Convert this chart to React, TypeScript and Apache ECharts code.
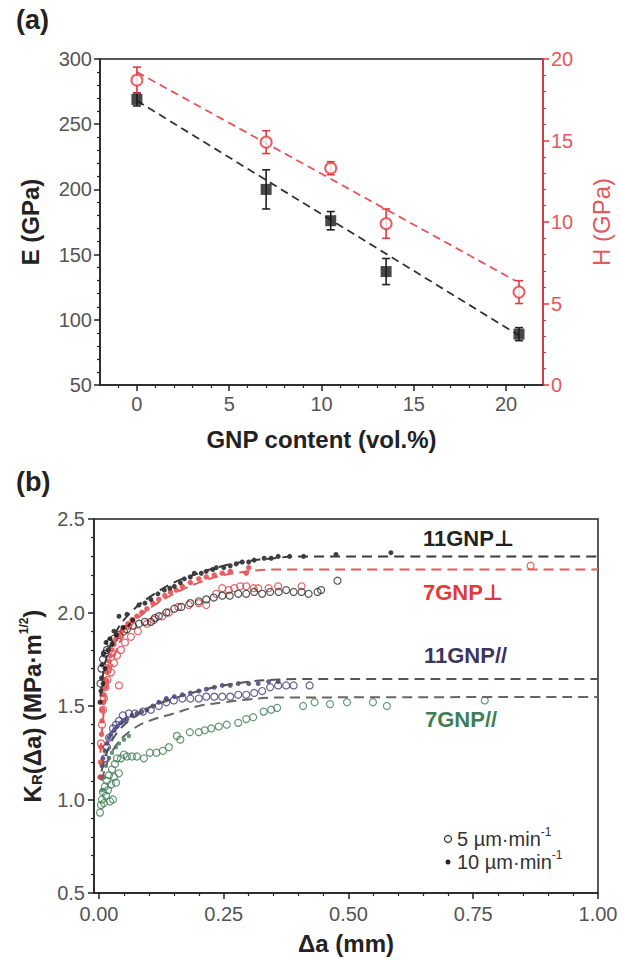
import React, { useEffect, useRef } from "react";
import * as echarts from "echarts";

// ---------- Panel (a) data ----------
const gnpContent = [0, 7, 10.5, 13.5, 20.7];
const modulusE = [269, 200, 176, 137, 89];
const modulusErr = [5, 15, 7, 10, 5];
const hardnessH = [18.7, 14.9, 13.3, 9.9, 5.7];
const hardnessErr = [0.8, 0.7, 0.4, 0.9, 0.7];
const fitE = [[0, 268], [20.7, 88]];
const fitH = [[0, 19.2], [20.5, 6.4]];
const aXTicks = [0, 5, 10, 15, 20];
const aXMinor = [-1, 1, 2, 3, 4, 6, 7, 8, 9, 11, 12, 13, 14, 16, 17, 18, 19, 21];

// ---------- Panel (b) data ----------
const bXTicks = [0, 0.25, 0.5, 0.75, 1.0];
const bXMinor = [0.05, 0.1, 0.15, 0.2, 0.3, 0.35, 0.4, 0.45, 0.55, 0.6, 0.65, 0.7, 0.8, 0.85, 0.9, 0.95];

const perp11Fast = [[0.002,1.52],[0.004,1.58],[0.005,1.65],[0.006,1.72],[0.008,1.62],[0.01,1.78],[0.012,1.7],[0.014,1.84],[0.018,1.8],[0.022,1.86],[0.026,1.83],[0.03,1.9],[0.035,1.88],[0.04,1.98],[0.048,1.92],[0.056,1.99],[0.062,1.93],[0.068,1.96],[0.08,2.04],[0.092,2.05],[0.104,2.07],[0.118,2.1],[0.131,2.12],[0.142,2.13],[0.151,2.14],[0.163,2.16],[0.171,2.18],[0.183,2.19],[0.191,2.21],[0.205,2.21],[0.215,2.22],[0.228,2.23],[0.235,2.24],[0.25,2.24],[0.263,2.25],[0.275,2.26],[0.287,2.27],[0.3,2.27],[0.311,2.28],[0.331,2.29],[0.345,2.29],[0.359,2.3],[0.382,2.3],[0.41,2.3],[0.475,2.31],[0.585,2.32]];
const perp11Slow = [[0.003,1.62],[0.005,1.7],[0.008,1.75],[0.012,1.78],[0.016,1.8],[0.022,1.84],[0.03,1.86],[0.04,1.88],[0.05,1.9],[0.056,1.91],[0.068,1.93],[0.08,1.94],[0.092,1.95],[0.104,1.95],[0.112,1.97],[0.12,1.98],[0.135,2.0],[0.151,2.02],[0.165,2.03],[0.183,2.05],[0.2,2.06],[0.215,2.07],[0.23,2.08],[0.247,2.09],[0.262,2.09],[0.279,2.1],[0.295,2.1],[0.311,2.11],[0.327,2.1],[0.343,2.11],[0.36,2.11],[0.375,2.12],[0.39,2.11],[0.406,2.11],[0.42,2.1],[0.438,2.11],[0.445,2.12],[0.478,2.17]];
const perp7Fast = [[0.002,1.12],[0.003,1.2],[0.004,1.28],[0.005,1.35],[0.006,1.42],[0.007,1.48],[0.008,1.52],[0.01,1.56],[0.012,1.6],[0.014,1.64],[0.016,1.68],[0.018,1.71],[0.02,1.74],[0.023,1.77],[0.026,1.8],[0.03,1.83],[0.034,1.86],[0.04,1.88],[0.046,1.9],[0.052,1.92],[0.058,1.94],[0.066,1.96],[0.076,1.98],[0.086,2.0],[0.096,2.02],[0.108,2.05],[0.12,2.07],[0.132,2.09],[0.143,2.11],[0.155,2.12],[0.167,2.14],[0.183,2.16],[0.2,2.18],[0.215,2.19],[0.231,2.2],[0.247,2.21],[0.263,2.22],[0.295,2.21],[0.3,2.24]];
const perp7Slow = [[0.004,1.3],[0.006,1.4],[0.008,1.48],[0.01,1.54],[0.013,1.6],[0.017,1.64],[0.024,1.68],[0.03,1.73],[0.036,1.77],[0.04,1.61],[0.044,1.8],[0.052,1.84],[0.064,1.87],[0.078,1.9],[0.096,1.94],[0.11,1.96],[0.127,1.98],[0.14,2.0],[0.159,2.03],[0.18,2.04],[0.2,2.05],[0.215,2.04],[0.235,2.1],[0.247,2.13],[0.26,2.12],[0.271,2.13],[0.283,2.14],[0.295,2.14],[0.31,2.13],[0.319,2.13],[0.34,2.13],[0.359,2.14],[0.406,2.14],[0.865,2.25]];
const par11Fast = [[0.004,1.12],[0.006,1.18],[0.008,1.22],[0.012,1.26],[0.016,1.3],[0.02,1.33],[0.024,1.35],[0.03,1.37],[0.036,1.39],[0.044,1.41],[0.05,1.42],[0.056,1.43],[0.066,1.45],[0.076,1.46],[0.086,1.47],[0.096,1.48],[0.108,1.5],[0.12,1.52],[0.135,1.54],[0.151,1.55],[0.167,1.56],[0.183,1.57],[0.2,1.58],[0.215,1.59],[0.231,1.6],[0.247,1.61],[0.263,1.61],[0.279,1.62],[0.3,1.62],[0.319,1.62],[0.34,1.63],[0.359,1.63]];
const par11Slow = [[0.012,1.22],[0.016,1.28],[0.02,1.33],[0.028,1.38],[0.034,1.4],[0.04,1.42],[0.048,1.45],[0.06,1.46],[0.072,1.46],[0.088,1.47],[0.104,1.48],[0.12,1.5],[0.135,1.52],[0.15,1.53],[0.167,1.54],[0.183,1.54],[0.2,1.54],[0.215,1.55],[0.231,1.55],[0.247,1.55],[0.263,1.55],[0.279,1.56],[0.295,1.56],[0.311,1.57],[0.327,1.58],[0.343,1.6],[0.359,1.61],[0.375,1.61],[0.39,1.61],[0.422,1.61]];
const par7Slow = [[0.002,0.93],[0.004,0.97],[0.006,1.0],[0.008,1.04],[0.01,0.98],[0.012,1.07],[0.014,1.02],[0.016,1.1],[0.018,1.05],[0.02,1.13],[0.022,0.99],[0.024,1.08],[0.026,1.16],[0.028,1.0],[0.03,1.12],[0.032,1.19],[0.034,1.09],[0.036,1.22],[0.04,1.14],[0.044,1.22],[0.05,1.24],[0.056,1.23],[0.066,1.23],[0.076,1.23],[0.09,1.22],[0.102,1.25],[0.115,1.25],[0.128,1.26],[0.14,1.28],[0.156,1.34],[0.163,1.32],[0.182,1.36],[0.2,1.36],[0.212,1.37],[0.225,1.38],[0.24,1.39],[0.256,1.4],[0.279,1.41],[0.295,1.43],[0.309,1.44],[0.33,1.47],[0.345,1.48],[0.357,1.49],[0.409,1.5],[0.432,1.52],[0.463,1.51],[0.497,1.52],[0.549,1.52],[0.577,1.5],[0.773,1.53]];
const par7Fast = [[0.006,1.05],[0.01,1.12],[0.014,1.18],[0.02,1.22],[0.026,1.25],[0.034,1.28],[0.04,1.3],[0.05,1.32],[0.06,1.34]];

const fitPerp11 = [[0.003,1.55],[0.01,1.7],[0.02,1.8],[0.035,1.9],[0.05,1.96],[0.075,2.03],[0.1,2.08],[0.15,2.16],[0.2,2.21],[0.25,2.25],[0.3,2.275],[0.35,2.29],[0.4,2.3],[1.0,2.3]];
const fitPerp7 = [[0.003,1.25],[0.01,1.48],[0.02,1.65],[0.035,1.8],[0.05,1.88],[0.075,1.96],[0.1,2.02],[0.15,2.1],[0.2,2.16],[0.25,2.2],[0.3,2.22],[0.35,2.23],[1.0,2.23]];
const fitPar11 = [[0.005,1.15],[0.02,1.28],[0.04,1.37],[0.07,1.44],[0.1,1.49],[0.15,1.54],[0.2,1.58],[0.25,1.61],[0.3,1.63],[0.35,1.64],[0.4,1.645],[1.0,1.645]];
const fitPar7 = [[0.005,1.1],[0.02,1.22],[0.04,1.31],[0.07,1.38],[0.1,1.42],[0.15,1.46],[0.2,1.5],[0.25,1.52],[0.3,1.535],[0.35,1.545],[1.0,1.548]];

const FONT = '"Liberation Sans", Arial, Helvetica, "DejaVu Sans", sans-serif';
const AXIS = "#222";
const LBL = "#555";
const RED = "#e0393e";
const RED_LBL = "#e2585c";
const PURPLE = "#3e3a78";
const GREEN = "#3f7d56";

function errorBars(color: string) {
  return (params: any, api: any) => {
    const x = api.value(0);
    const lo = api.coord([x, api.value(1)]);
    const hi = api.coord([x, api.value(2)]);
    const w = 4;
    const st = { stroke: color, lineWidth: 1.6 };
    return {
      type: "group",
      children: [
        { type: "line", shape: { x1: lo[0], y1: lo[1], x2: hi[0], y2: hi[1] }, style: st },
        { type: "line", shape: { x1: lo[0] - w, y1: lo[1], x2: lo[0] + w, y2: lo[1] }, style: st },
        { type: "line", shape: { x1: hi[0] - w, y1: hi[1], x2: hi[0] + w, y2: hi[1] }, style: st },
      ],
    };
  };
}

function scatter(name: string, data: number[][], color: string, open: boolean, size?: number) {
  return {
    type: "scatter",
    name,
    xAxisIndex: 2,
    yAxisIndex: 2,
    data,
    symbol: "circle",
    symbolSize: size ?? (open ? 7 : 4.5),
    itemStyle: open
      ? { color: "rgba(255,255,255,0)", borderColor: color, borderWidth: 1.2 }
      : { color },
    z: 3,
  };
}

function fitLine(data: number[][], color: string) {
  return {
    type: "line",
    xAxisIndex: 2,
    yAxisIndex: 2,
    data,
    smooth: 0.4,
    symbol: "none",
    lineStyle: { color, width: 2, type: [10, 6] },
    z: 4,
  };
}

const tickLabel = { fontFamily: FONT, fontSize: 20, color: LBL };
const nameStyle = { fontFamily: FONT, fontSize: 24, fontWeight: "bold", color: AXIS };

export default function App() {
  const ref = useRef<HTMLDivElement>(null);
  useEffect(() => {
    if (!ref.current) return;
    const chart = echarts.init(ref.current, null, { renderer: "svg" });
    const option: any = {
      animation: false,
      backgroundColor: "#fff",
      grid: [
        { left: 100, top: 59, width: 445, height: 326, show: true, borderColor: AXIS, borderWidth: 1.5, backgroundColor: "transparent" },
        { left: 94, top: 519, width: 504, height: 374, show: true, borderColor: AXIS, borderWidth: 1.5, backgroundColor: "transparent" },
      ],
      xAxis: [
        {
          gridIndex: 0, type: "value", min: -2, max: 22, position: "bottom",
          axisLine: { onZero: false, lineStyle: { color: AXIS, width: 1.5 } },
          axisTick: { customValues: aXTicks, length: 6, lineStyle: { color: AXIS, width: 1.5 } },
          axisLabel: { customValues: aXTicks, margin: 9, ...tickLabel },
          splitLine: { show: false },
          name: "GNP content (vol.%)", nameLocation: "middle", nameGap: 42, nameTextStyle: nameStyle,
        },
        {
          gridIndex: 0, type: "value", min: -2, max: 22, position: "bottom",
          axisLine: { show: false, onZero: false },
          axisTick: { customValues: aXMinor, length: 3, lineStyle: { color: AXIS, width: 1.2 } },
          axisLabel: { show: false },
          splitLine: { show: false },
        },
        {
          gridIndex: 1, type: "value", min: -0.01, max: 1.0, position: "bottom",
          axisLine: { onZero: false, lineStyle: { color: AXIS, width: 1.5 } },
          axisTick: { customValues: bXTicks, length: 6, lineStyle: { color: AXIS, width: 1.5 } },
          axisLabel: { customValues: bXTicks, margin: 11, formatter: (v: number) => v.toFixed(2), ...tickLabel },
          splitLine: { show: false },
          name: "Δa (mm)", nameLocation: "middle", nameGap: 38, nameTextStyle: nameStyle,
        },
        {
          gridIndex: 1, type: "value", min: -0.01, max: 1.0, position: "bottom",
          axisLine: { show: false, onZero: false },
          axisTick: { customValues: bXMinor, length: 3, lineStyle: { color: AXIS, width: 1.2 } },
          axisLabel: { show: false },
          splitLine: { show: false },
        },
      ],
      yAxis: [
        {
          gridIndex: 0, type: "value", min: 50, max: 300, interval: 50, position: "left",
          axisLine: { show: true, onZero: false, lineStyle: { color: AXIS, width: 1.5 } },
          axisTick: { show: true, length: 6, lineStyle: { color: AXIS, width: 1.5 } },
          minorTick: { show: true, splitNumber: 5, length: 3, lineStyle: { color: AXIS, width: 1.2 } },
          axisLabel: { margin: 8, ...tickLabel },
          splitLine: { show: false },
          name: "E (GPa)", nameLocation: "middle", nameGap: 58, nameTextStyle: nameStyle,
        },
        {
          gridIndex: 0, type: "value", min: 0, max: 20, interval: 5, position: "right",
          axisLine: { show: true, onZero: false, lineStyle: { color: RED, width: 1.8 } },
          axisTick: { show: true, length: 6, lineStyle: { color: RED, width: 1.5 } },
          minorTick: { show: true, splitNumber: 5, length: 3, lineStyle: { color: RED, width: 1.2 } },
          axisLabel: { margin: 8, ...tickLabel, color: RED_LBL },
          splitLine: { show: false },
          name: "H (GPa)", nameLocation: "middle", nameGap: 46,
          nameTextStyle: { fontFamily: FONT, fontSize: 24, color: RED_LBL },
        },
        {
          gridIndex: 1, type: "value", min: 0.5, max: 2.5, interval: 0.5, position: "left",
          axisLine: { show: true, onZero: false, lineStyle: { color: AXIS, width: 1.5 } },
          axisTick: { show: true, length: 6, lineStyle: { color: AXIS, width: 1.5 } },
          minorTick: { show: true, splitNumber: 5, length: 3, lineStyle: { color: AXIS, width: 1.2 } },
          axisLabel: { margin: 9, formatter: (v: number) => v.toFixed(1), ...tickLabel },
          splitLine: { show: false },
          name: "{i|K}{s|R}{i|(Δa) (MPa·m}{p|1/2}{i|)}",
          nameLocation: "middle", nameGap: 48,
          nameTextStyle: {
            ...nameStyle,
            rich: {
              i: { fontFamily: FONT, fontSize: 24, fontWeight: "bold", color: AXIS },
              s: { fontFamily: FONT, fontSize: 15, fontWeight: "bold", color: AXIS, padding: [8, 0, 0, 0] },
              p: { fontFamily: FONT, fontSize: 12, fontWeight: "bold", color: AXIS, padding: [0, 0, 16, 0] },
            },
          },
        },
      ],
      series: [
        // Panel (a)
        {
          type: "line", xAxisIndex: 0, yAxisIndex: 0, data: fitE, symbol: "none",
          lineStyle: { color: "#333", width: 1.8, type: [8, 5] }, z: 2,
        },
        {
          type: "line", xAxisIndex: 0, yAxisIndex: 1, data: fitH, symbol: "none",
          lineStyle: { color: "#e25559", width: 1.8, type: [8, 5] }, z: 2,
        },
        {
          type: "custom", xAxisIndex: 0, yAxisIndex: 0,
          data: gnpContent.map((x, i) => [x, modulusE[i] - modulusErr[i], modulusE[i] + modulusErr[i]]),
          encode: { x: 0, y: [1, 2] },
          renderItem: errorBars("#222"), z: 3,
        },
        {
          type: "custom", xAxisIndex: 0, yAxisIndex: 1,
          data: gnpContent.map((x, i) => [x, hardnessH[i] - hardnessErr[i], hardnessH[i] + hardnessErr[i]]),
          encode: { x: 0, y: [1, 2] },
          renderItem: errorBars(RED), z: 3,
        },
        {
          type: "scatter", xAxisIndex: 0, yAxisIndex: 0,
          data: gnpContent.map((x, i) => [x, modulusE[i]]),
          symbol: "rect", symbolSize: 11, itemStyle: { color: "#1a1a1a" }, z: 4,
        },
        {
          type: "scatter", xAxisIndex: 0, yAxisIndex: 1,
          data: gnpContent.map((x, i) => [x, hardnessH[i]]),
          symbol: "circle", symbolSize: 11,
          itemStyle: { color: "#fff", borderColor: RED, borderWidth: 2 }, z: 5,
        },
        // Panel (b)
        scatter("7GNP// 5", par7Slow, GREEN, true),
        scatter("7GNP// 10", par7Fast, GREEN, false),
        scatter("11GNP// 5", par11Slow, PURPLE, true),
        scatter("11GNP// 10", par11Fast, PURPLE, false, 5),
        scatter("7GNP⊥ 5", perp7Slow, RED, true),
        scatter("11GNP⊥ 5", perp11Slow, "#2a2a2a", true),
        scatter("7GNP⊥ 10", perp7Fast, RED, false, 5.5),
        scatter("11GNP⊥ 10", perp11Fast, "#111", false, 5),
        fitLine(fitPerp11, "#3a3a3a"),
        fitLine(fitPerp7, "#e45b5b"),
        fitLine(fitPar11, "#555"),
        fitLine(fitPar7, "#666"),
      ],
      graphic: [
        { type: "text", left: 16, top: 6, style: { text: "(a)", fontFamily: FONT, fontSize: 27, fontWeight: "bold", fill: "#222" } },
        { type: "text", left: 16, top: 468, style: { text: "(b)", fontFamily: FONT, fontSize: 27, fontWeight: "bold", fill: "#222" } },
        { type: "text", x: 423, y: 538, style: { text: "11GNP⊥", fontFamily: FONT, fontSize: 22, fontWeight: "bold", fill: "#222", verticalAlign: "middle" } },
        { type: "text", x: 423, y: 592, style: { text: "7GNP⊥", fontFamily: FONT, fontSize: 22, fontWeight: "bold", fill: "#e23a3a", verticalAlign: "middle" } },
        { type: "text", x: 424, y: 655, style: { text: "11GNP//", fontFamily: FONT, fontSize: 22, fontWeight: "bold", fill: "#3b3560", verticalAlign: "middle" } },
        { type: "text", x: 425, y: 719, style: { text: "7GNP//", fontFamily: FONT, fontSize: 22, fontWeight: "bold", fill: GREEN, verticalAlign: "middle" } },
        { type: "circle", shape: { cx: 448, cy: 839, r: 3.5 }, style: { fill: "none", stroke: "#333", lineWidth: 1.2 } },
        { type: "circle", shape: { cx: 448, cy: 862, r: 2.5 }, style: { fill: "#222" } },
        {
          type: "text", x: 457, y: 839,
          style: {
            text: "5 µm·min{p|-1}", fontFamily: FONT, fontSize: 20, fill: "#333", verticalAlign: "middle",
            rich: { p: { fontFamily: FONT, fontSize: 12, fill: "#333", padding: [0, 0, 14, 0] } },
          },
        },
        {
          type: "text", x: 457, y: 862,
          style: {
            text: "10 µm·min{p|-1}", fontFamily: FONT, fontSize: 20, fill: "#333", verticalAlign: "middle",
            rich: { p: { fontFamily: FONT, fontSize: 12, fill: "#333", padding: [0, 0, 14, 0] } },
          },
        },
      ],
    };
    chart.setOption(option);
    return () => chart.dispose();
  }, []);
  return (
    <div
      ref={ref}
      style={{ position: "fixed", left: 0, top: 0, width: 621, height: 960, background: "#fff" }}
    />
  );
}
